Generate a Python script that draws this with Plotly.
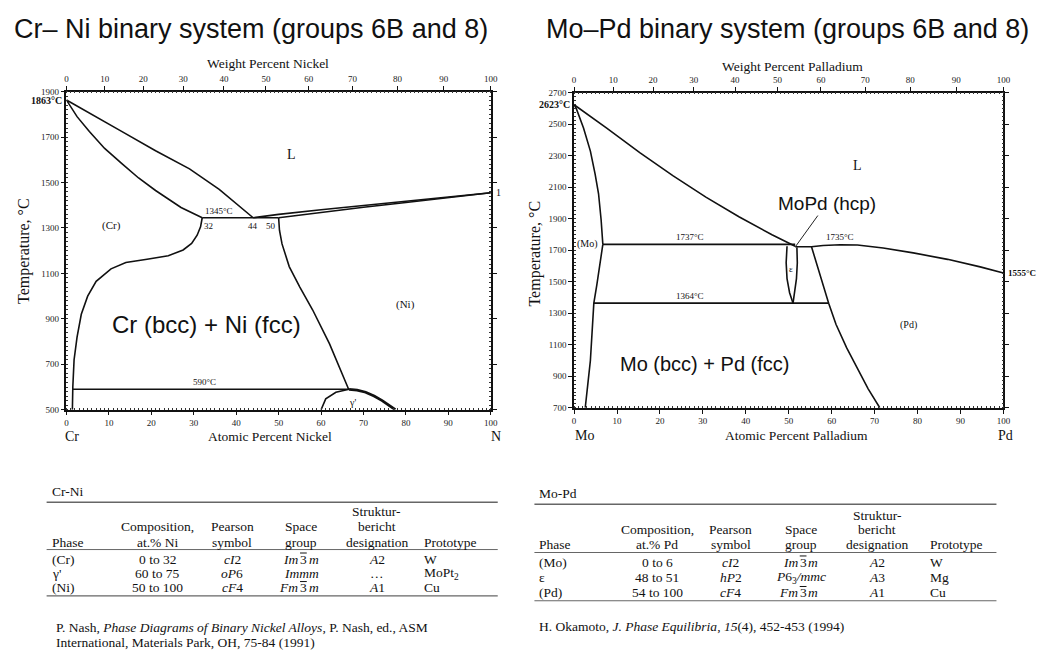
import plotly.graph_objects as go

W, H = 1056, 655

# ---------------- Cr-Ni data (atomic % Ni, temperature °C) ----------------
crni_liq_left_x = [0, 7, 13, 21, 29, 36, 44]
crni_liq_left_T = [1863, 1790, 1725, 1640, 1560, 1470, 1345]
crni_sol_left_x = [0, 2.5, 5.4, 9, 13.2, 17, 21, 27, 32]
crni_sol_left_T = [1863, 1790, 1725, 1650, 1581, 1520, 1465, 1390, 1345]
crni_eutectic_x = [32, 50]
crni_eutectic_T = [1345, 1345]
crni_liq_right_x = [44, 50, 60, 70, 80, 90, 100]
crni_liq_right_T = [1345, 1360, 1380, 1399, 1418, 1437, 1455]
crni_sol_right_x = [50, 60, 70, 80, 90, 100]
crni_sol_right_T = [1345, 1369, 1391, 1412, 1434, 1455]
crni_solvus_cr_x = [32, 31.6, 30.8, 29.5, 27.5, 24, 19, 14, 10.5, 7, 5, 3.5, 2.5, 1.8, 1.5, 1.4]
crni_solvus_cr_T = [1345, 1305, 1268, 1232, 1203, 1178, 1162, 1148, 1120, 1065, 1000, 920, 820, 720, 600, 500]
crni_solvus_ni_x = [50, 50.2, 50.8, 52.5, 55, 58, 62, 66.5]
crni_solvus_ni_T = [1345, 1290, 1230, 1130, 1040, 940, 790, 590]
crni_590_x = [1.5, 66.5]
crni_590_T = [590, 590]
crni_gamma_left_x = [60, 61.1, 63.5, 65.5, 66.6]
crni_gamma_left_T = [500, 548, 577, 586, 590]
crni_gamma_right_x = [66.6, 68.5, 70.5, 72.5, 74.4, 76, 77.5]
crni_gamma_right_T = [590, 586, 577, 560, 540, 520, 500]
crni_wt_ticks_at = [0, 9.0, 18.1, 27.5, 37.1, 47.0, 57.1, 67.4, 78.0, 88.9, 100]
crni_wt_labels = ["0", "10", "20", "30", "40", "50", "60", "70", "80", "90", "100"]

# ---------------- Mo-Pd data (atomic % Pd, temperature °C) ----------------
mopd_liq_left_x = [0, 7.6, 15.3, 23.0, 30.7, 38.4, 46.1, 51.5]
mopd_liq_left_T = [2623, 2475, 2319, 2173, 2037, 1912, 1798, 1725]
mopd_sol_left_x = [0, 0.5, 2.2, 3.8, 4.9, 5.7, 6.3, 6.7]
mopd_sol_left_T = [2623, 2600, 2475, 2329, 2183, 2058, 1892, 1737]
mopd_solvus_mo_x = [6.7, 6.0, 5.3, 4.6, 4.3, 3.8, 3.2, 2.6]
mopd_solvus_mo_T = [1737, 1600, 1480, 1364, 1200, 1000, 850, 700]
mopd_perit1_x = [6.7, 51.5]
mopd_perit1_T = [1737, 1737]
mopd_perit2_x = [4.6, 59.3]
mopd_perit2_T = [1364, 1364]
mopd_eps_left_x = [49.6, 49.4, 49.6, 50.2, 51.0]
mopd_eps_left_T = [1725, 1620, 1520, 1430, 1364]
mopd_eps_right_x = [51.9, 52.0, 51.8, 51.4, 51.0]
mopd_eps_right_T = [1718, 1620, 1520, 1430, 1364]
mopd_liq_right_x = [51.5, 55.3, 58, 62, 66, 72, 79, 87, 94.6, 100]
mopd_liq_right_T = [1722, 1722, 1730, 1735, 1733, 1714, 1683, 1642, 1594, 1555]
mopd_solvus_pd_x = [55.3, 56.5, 58, 59.3, 61, 63.5, 66, 68.5, 71.2]
mopd_solvus_pd_T = [1722, 1610, 1480, 1364, 1230, 1080, 950, 820, 700]
mopd_wt_ticks_at = [0, 9.1, 18.4, 27.9, 37.5, 47.4, 57.5, 67.8, 78.3, 89.0, 100]
mopd_wt_labels = ["0", "10", "20", "30", "40", "50", "60", "70", "80", "90", "100"]

# ---------------- tables ----------------
# a tuple (before, barred, after) means the middle part carries an overbar
IM3M = ("<i>Im</i>", "3", "<i>m</i>")
FM3M = ("<i>Fm</i>", "3", "<i>m</i>")
crni_header = [["Phase"], ["Composition,", "at.% Ni"], ["Pearson", "symbol"], ["Space", "group"],
               ["Struktur-", "bericht", "designation"], ["Prototype"]]
crni_rows = [["(Cr)", "0 to 32", "<i>cI</i>2", IM3M, "<i>A</i>2", "W"],
             ["\u03b3'", "60 to 75", "<i>oP</i>6", "<i>Immm</i>", "\u2026", "MoPt<sub>2</sub>"],
             ["(Ni)", "50 to 100", "<i>cF</i>4", FM3M, "<i>A</i>1", "Cu"]]
mopd_header = [["Phase"], ["Composition,", "at.% Pd"], ["Pearson", "symbol"], ["Space", "group"],
               ["Struktur-", "bericht", "designation"], ["Prototype"]]
mopd_rows = [["(Mo)", "0 to 6", "<i>cI</i>2", IM3M, "<i>A</i>2", "W"],
             ["\u03b5", "48 to 51", "<i>hP</i>2", "<i>P</i>6<sub>3</sub><i>/mmc</i>", "<i>A</i>3", "Mg"],
             ["(Pd)", "54 to 100", "<i>cF</i>4", FM3M, "<i>A</i>1", "Cu"]]

SERIF = "Liberation Serif"
SANS = "Liberation Sans"


def px(x):
    return x / W


def py(y):
    return 1 - y / H


fig = go.Figure()
LW = 1.6


def line(x, y, xa, ya, w=LW):
    fig.add_trace(go.Scatter(x=x, y=y, mode="lines", xaxis=xa, yaxis=ya,
                             line=dict(color="#111", width=w), hoverinfo="skip", showlegend=False))


for xs, ts in [(crni_liq_left_x, crni_liq_left_T), (crni_sol_left_x, crni_sol_left_T),
               (crni_eutectic_x, crni_eutectic_T), (crni_liq_right_x, crni_liq_right_T),
               (crni_sol_right_x, crni_sol_right_T), (crni_solvus_cr_x, crni_solvus_cr_T),
               (crni_solvus_ni_x, crni_solvus_ni_T), (crni_590_x, crni_590_T),
               (crni_gamma_left_x, crni_gamma_left_T)]:
    line(xs, ts, "x", "y")
line(crni_gamma_right_x, crni_gamma_right_T, "x", "y", 2.8)
fig.add_trace(go.Scatter(x=[None], y=[None], xaxis="x2", yaxis="y", showlegend=False))

for xs, ts in [(mopd_liq_left_x, mopd_liq_left_T), (mopd_sol_left_x, mopd_sol_left_T),
               (mopd_solvus_mo_x, mopd_solvus_mo_T), (mopd_perit1_x, mopd_perit1_T),
               (mopd_perit2_x, mopd_perit2_T), (mopd_eps_left_x, mopd_eps_left_T),
               (mopd_eps_right_x, mopd_eps_right_T), (mopd_liq_right_x, mopd_liq_right_T),
               (mopd_solvus_pd_x, mopd_solvus_pd_T)]:
    line(xs, ts, "x3", "y3")
fig.add_trace(go.Scatter(x=[None], y=[None], xaxis="x4", yaxis="y3", showlegend=False))

tickfont = dict(family=SERIF, size=9, color="#222")
common_x = dict(range=[0, 100], showgrid=False, zeroline=False, showline=True, linecolor="#111",
                linewidth=1.5, ticks="outside", ticklen=4, tickcolor="#111", tickfont=tickfont,
                fixedrange=True)
common_y = dict(showgrid=False, zeroline=False, showline=True, linecolor="#111", linewidth=1.5,
                ticks="outside", ticklen=4, tickcolor="#111", tickfont=tickfont, mirror="ticks",
                fixedrange=True)
minor_x = dict(ticks="inside", ticklen=2, dtick=1, tickcolor="#333", tickwidth=1)

L_dom_x = [px(65), px(493)]
L_dom_y = [py(411), py(88)]
R_dom_x = [px(577), px(1010)]
R_dom_y = [py(409), py(89)]

fig.update_layout(
    width=W, height=H, margin=dict(l=0, r=0, t=0, b=0),
    paper_bgcolor="white", plot_bgcolor="white", showlegend=False,
    xaxis=dict(common_x, domain=L_dom_x, anchor="y", dtick=10, tick0=0, mirror=True, minor=minor_x),
    xaxis2=dict(common_x, overlaying="x", side="top", anchor="y", tickmode="array",
                tickvals=crni_wt_ticks_at, ticktext=crni_wt_labels, minor=minor_x),
    yaxis=dict(common_y, domain=L_dom_y, anchor="x", range=[500, 1900], tickmode="array",
               tickvals=list(range(500, 1901, 200)),
               minor=dict(ticks="inside", ticklen=2, dtick=20, tick0=500, tickcolor="#333")),
    xaxis3=dict(common_x, domain=R_dom_x, anchor="y3", dtick=10, tick0=0, mirror=True, minor=minor_x),
    xaxis4=dict(common_x, overlaying="x3", side="top", anchor="y3", tickmode="array",
                tickvals=mopd_wt_ticks_at, ticktext=mopd_wt_labels, minor=minor_x),
    yaxis3=dict(common_y, domain=R_dom_y, anchor="x3", range=[700, 2700], tickmode="array",
                tickvals=list(range(700, 2701, 200)),
                minor=dict(ticks="inside", ticklen=2, dtick=25, tick0=700, tickcolor="#333")),
)

ann = []
shapes = []


def t(text, x, y, size=11, family=SERIF, xanchor="center", yanchor="middle", color="#111", **kw):
    ann.append(dict(text=text, x=px(x), y=py(y), xref="paper", yref="paper", showarrow=False,
                    font=dict(family=family, size=size, color=color), xanchor=xanchor,
                    yanchor=yanchor, **kw))


def d(text, x, y, xa, ya, size=8, family=SERIF, xanchor="center", yanchor="middle", color="#111", **kw):
    ann.append(dict(text=text, x=x, y=y, xref=xa, yref=ya, showarrow=False,
                    font=dict(family=family, size=size, color=color), xanchor=xanchor,
                    yanchor=yanchor, **kw))


# titles
t("Cr\u2013 Ni binary system (groups 6B and 8)", 10, 24, size=27, family=SANS, xanchor="left")
t("Mo\u2013Pd binary system (groups 6B and 8)", 547, 24, size=27, family=SANS, xanchor="left")

# axis titles left
t("Weight Percent Nickel", 268, 59, size=13.5)
t("Atomic Percent Nickel", 270, 438, size=13.5)
t("Cr", 71, 438, size=14)
t("N", 498, 438, size=14)
t("Temperature, \u00b0C", 22, 250, size=16, textangle=-90)
# axis titles right
t("Weight Percent Palladium", 797, 62, size=13.5)
t("Atomic Percent Palladium", 801, 437, size=13.5)
t("Mo", 588, 437, size=14)
t("Pd", 1012, 437, size=14)
t("Temperature, \u00b0C", 538, 252, size=16, textangle=-90)

# in-chart labels Cr-Ni
d("<b>1863\u00b0C</b>", 0, 1863, "x", "y", size=10, xanchor="right", xshift=-2)
d("1", 100, 1455, "x", "y", size=10, xanchor="left", xshift=3)
d("L", 53, 1625, "x", "y", size=14)
d("(Cr)", 10.5, 1310, "x", "y", size=11)
d("(Ni)", 80, 964, "x", "y", size=11)
d("1345\u00b0C", 36, 1345, "x", "y", size=9, yanchor="bottom")
d("32", 33.5, 1345, "x", "y", size=9, yanchor="top", yshift=-1)
d("44", 44, 1345, "x", "y", size=9, yanchor="top", yshift=-1)
d("50", 48.3, 1345, "x", "y", size=9, yanchor="top", yshift=-1)
d("590\u00b0C", 32.5, 590, "x", "y", size=9, yanchor="bottom")
d("\u03b3'", 67.5, 530, "x", "y", size=10)
d("Cr (bcc) + Ni (fcc)", 33, 876, "x", "y", size=24, family=SANS)

# in-chart labels Mo-Pd
d("<b>2623\u00b0C</b>", 0, 2623, "x3", "y3", size=10, xanchor="right", xshift=-2)
d("<b>1555\u00b0C</b>", 100, 1555, "x3", "y3", size=9, xanchor="left", xshift=3)
d("L", 66, 2236, "x3", "y3", size=14)
d("(Mo)", 0, 1737, "x3", "y3", size=10, xanchor="left", xshift=1)
d("(Pd)", 78, 1225, "x3", "y3", size=10)
d("1737\u00b0C", 27, 1737, "x3", "y3", size=9, yanchor="bottom")
d("1735\u00b0C", 62, 1737, "x3", "y3", size=9, yanchor="bottom")
d("1364\u00b0C", 27, 1364, "x3", "y3", size=9, yanchor="bottom")
d("\u03b5", 50.6, 1580, "x3", "y3", size=9)
d("Mo (bcc) + Pd (fcc)", 30.3, 975, "x3", "y3", size=20, family=SANS)
ann.append(dict(text="MoPd (hcp)", x=51.6, y=1724, xref="x3", yref="y3", ax=58.8, ay=1996,
                axref="x3", ayref="y3", showarrow=True, arrowhead=0, arrowwidth=1,
                arrowcolor="#222", standoff=0, font=dict(family=SANS, size=19, color="#111")))


def hline(x0, x1, y, w=1.2, color="#666"):
    shapes.append(dict(type="line", xref="paper", yref="paper", x0=px(x0), x1=px(x1),
                       y0=py(y), y1=py(y), line=dict(color=color, width=w)))


TF = 13.5
HALF3 = 3.4  # half width of the barred digit at TF


def cell(s, x, y, anchor):
    if isinstance(s, tuple):
        before, mid, after = s
        c = x + 2
        t(before, c - HALF3, y, size=TF, xanchor="right")
        t(mid, c, y, size=TF, xanchor="center")
        t(after, c + HALF3, y, size=TF, xanchor="left")
        shapes.append(dict(type="line", xref="paper", yref="paper",
                           x0=px(c - HALF3), x1=px(c + HALF3), y0=py(y - 6.5), y1=py(y - 6.5),
                           line=dict(color="#111", width=1)))
    else:
        t(s, x, y, size=TF, xanchor=anchor)


def table(title, title_pos, x0, x1, lines_y, col_x, col_anchor, header, rows, head_y, row_y):
    t(title, title_pos[0], title_pos[1], size=TF, xanchor="left")
    hline(x0, x1, lines_y[0], 1.5)
    hline(x0, x1, lines_y[1], 1.0)
    hline(x0, x1, lines_y[2], 1.2)
    for ci, hc in enumerate(header):
        n = len(hc)
        for k, s in enumerate(hc):
            t(s, col_x[ci], head_y[3 - n + k], size=TF, xanchor=col_anchor[ci])
    for ri, row in enumerate(rows):
        for ci, s in enumerate(row):
            cell(s, col_x[ci], row_y[ri], col_anchor[ci])


anchors = ["left", "center", "center", "center", "center", "left"]
table("Cr-Ni", (48, 494), 45, 500, [505, 553, 600], [48, 157, 232, 302, 378, 424], anchors,
      crni_header, crni_rows, [514, 530, 546], [563, 577, 592])
table("Mo-Pd", (540, 496), 537, 1003, [507, 556, 605], [540, 661, 735, 806, 883, 934], anchors,
      mopd_header, mopd_rows, [518, 533, 548], [566, 581, 597])

t("P. Nash, <i>Phase Diagrams of Binary Nickel Alloys</i>, P. Nash, ed., ASM", 52, 632, size=TF, xanchor="left")
t("International, Materials Park, OH, 75-84 (1991)", 52, 647, size=TF, xanchor="left")
t("H. Okamoto, <i>J. Phase Equilibria</i>, <i>15</i>(4), 452-453 (1994)", 540, 631, size=TF, xanchor="left")

fig.update_layout(annotations=ann, shapes=shapes)
fig.write_html("out.html")
